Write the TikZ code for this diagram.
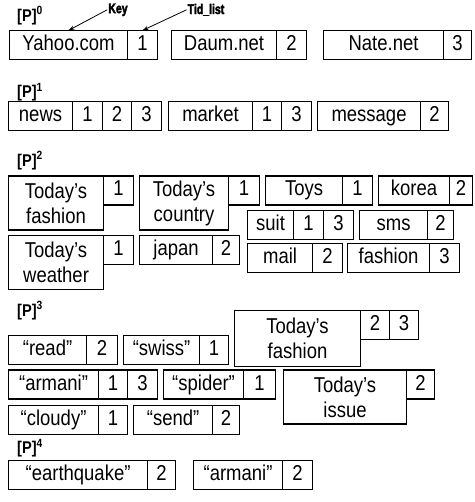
\documentclass[tikz,border=0pt]{standalone}
\usepackage{fontspec}
\setmainfont{Liberation Sans}[FakeStretch=0.86]
\newfontfamily\tagfam{Liberation Sans}[FakeStretch=0.75, FakeBold=2.5]
\usetikzlibrary{arrows.meta}
\newcommand\boxfont{\fontsize{21.5}{25}\selectfont}
\newcommand\lblfont{\bfseries\fontsize{17}{19}\selectfont}
\newcommand\tagfont{\tagfam\bfseries\fontsize{14}{15}\selectfont}
\tikzset{
  cell/.style={draw, line width=1.1pt, anchor=north west, inner sep=0pt, font=\boxfont, minimum height=29, text height=15.5pt, text depth=4.5pt},
  two/.style={cell, align=center, minimum height=54, text height={}, text depth={}},
  lbl/.style={anchor=west, font=\lblfont, inner sep=0pt},
  tag/.style={font=\tagfont, inner sep=1pt},
  ptr/.style={-{Stealth[length=6pt,width=4pt]}, line width=0.8pt}
}
\begin{document}
\begin{tikzpicture}[x=1pt,y=-0.98pt]
\useasboundingbox (0,0) rectangle (474,512.24);
% P0
\node[lbl] (p0) at (17,16) {[P]\textsuperscript{0}};
\node[tag] (key) at (118,10) {Key};
\node[tag] (tid) at (206,10) {Tid\_list};
\node[cell,minimum width=118] (yahoo) at (9,31) {Yahoo.com};
\node[cell,minimum width=30] (yahooT) at (127,31) {1};
\node[cell,minimum width=105] (daum) at (171,31) {Daum.net};
\node[cell,minimum width=30] (daumT) at (276,31) {2};
\node[cell,minimum width=120] (nate) at (323,31) {Nate.net};
\node[cell,minimum width=28] (nateT) at (443,31) {3};
\draw[ptr] (key.west) -- (yahoo.north);
\draw[ptr] (tid.west) -- (yahooT.north);
% P1
\node[lbl] (p1) at (17,94) {[P]\textsuperscript{1}};
\node[cell,minimum width=64] (news) at (8,103) {news};
\node[cell,minimum width=30] (news1) at (72,103) {1};
\node[cell,minimum width=29] (news2) at (102,103) {2};
\node[cell,minimum width=30] (news3) at (131,103) {3};
\node[cell,minimum width=84] (market) at (168,103) {market};
\node[cell,minimum width=29] (market1) at (252,103) {1};
\node[cell,minimum width=30] (market3) at (281,103) {3};
\node[cell,minimum width=103] (message) at (317,103) {message};
\node[cell,minimum width=28] (message2) at (420,103) {2};
% P2
\node[lbl] (p2) at (17,164) {[P]\textsuperscript{2}};
\node[two,minimum width=95] (tf) at (8,179) {Today's\\fashion};
\node[cell,minimum width=30] (tf1) at (103,179) {1};
\node[two,minimum width=89] (tc) at (139,179) {Today's\\country};
\node[cell,minimum width=31] (tc1) at (228,179) {1};
\node[cell,minimum width=77] (toys) at (265,179) {Toys};
\node[cell,minimum width=30] (toys1) at (342,179) {1};
\node[cell,minimum width=71] (korea) at (378,179) {korea};
\node[cell,minimum width=23] (korea2) at (449,179) {2};
\node[cell,minimum width=46] (suit) at (247,214) {suit};
\node[cell,minimum width=30] (suit1) at (293,214) {1};
\node[cell,minimum width=30] (suit3) at (323,214) {3};
\node[cell,minimum width=68] (sms) at (359,214) {sms};
\node[cell,minimum width=26] (sms2) at (427,214) {2};
\node[two,minimum width=95] (tw) at (8,240) {Today's\\weather};
\node[cell,minimum width=30] (tw1) at (103,240) {1};
\node[cell,minimum width=73] (japan) at (139,240) {japan};
\node[cell,minimum width=27] (japan2) at (212,240) {2};
\node[cell,minimum width=65] (mail) at (247,248) {mail};
\node[cell,minimum width=30] (mail2) at (312,248) {2};
\node[cell,minimum width=82] (fashion) at (347,248) {fashion};
\node[cell,minimum width=30] (fashion3) at (429,248) {3};
% P3
\node[lbl] (p3) at (17,317) {[P]\textsuperscript{3}};
\node[two,minimum width=126,minimum height=56] (tf3) at (234,316) {Today's\\fashion};
\node[cell,minimum width=29] (tf3a) at (360,316) {2};
\node[cell,minimum width=29] (tf3b) at (389,316) {3};
\node[cell,minimum width=78] (read) at (8,342) {“read”};
\node[cell,minimum width=31] (read2) at (86,342) {2};
\node[cell,minimum width=76] (swiss) at (123,342) {“swiss”};
\node[cell,minimum width=29] (swiss1) at (199,342) {1};
\node[cell,minimum width=90] (armani) at (8,377) {“armani”};
\node[cell,minimum width=29] (armani1) at (98,377) {1};
\node[cell,minimum width=30] (armani3) at (127,377) {3};
\node[cell,minimum width=80] (spider) at (163,377) {“spider”};
\node[cell,minimum width=32] (spider1) at (243,377) {1};
\node[two,minimum width=123] (issue) at (283,377) {Today's\\issue};
\node[cell,minimum width=28] (issue2) at (406,377) {2};
\node[cell,minimum width=90] (cloudy) at (8,413) {“cloudy”};
\node[cell,minimum width=29] (cloudy1) at (98,413) {1};
\node[cell,minimum width=79] (send) at (133,413) {“send”};
\node[cell,minimum width=27] (send2) at (212,413) {2};
% P4
\node[lbl] (p4) at (17,457) {[P]\textsuperscript{4}};
\node[cell,minimum width=139] (eq) at (8,469) {“earthquake”};
\node[cell,minimum width=28] (eq2) at (147,469) {2};
\node[cell,minimum width=89] (arm4) at (193,469) {“armani”};
\node[cell,minimum width=30] (arm42) at (282,469) {2};
\end{tikzpicture}
\end{document}
